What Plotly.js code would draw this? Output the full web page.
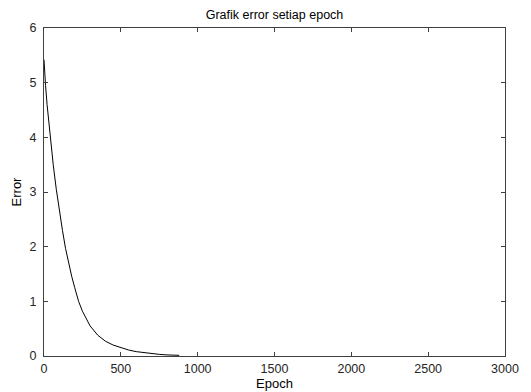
<!DOCTYPE html>
<html>
<head>
<meta charset="utf-8">
<script src="https://cdn.plot.ly/plotly-3.0.1.min.js"></script>
<style>html,body{margin:0;padding:0;background:#fff;}#chart{width:531px;height:392px;}</style>
</head>
<body>
<div id="chart"></div>
<script>
const epochs = [0, 5, 10, 20, 30, 40, 50, 60, 80, 100, 120, 140, 160, 180, 200, 225, 250, 275, 300, 350, 400, 450, 500, 550, 600, 650, 700, 750, 800, 850, 880];
const errors = [5.42, 5.1, 4.95, 4.6, 4.3, 4.0, 3.75, 3.5, 3.05, 2.65, 2.3, 1.97, 1.7, 1.46, 1.25, 1.0, 0.82, 0.67, 0.55, 0.38, 0.27, 0.2, 0.15, 0.11, 0.08, 0.06, 0.04, 0.03, 0.02, 0.015, 0.012];
const xTicks = [0, 500, 1000, 1500, 2000, 2500, 3000];
const yTicks = [0, 1, 2, 3, 4, 5, 6];

const fam = 'Liberation Sans, Arial, sans-serif';
const font = {family: fam, size: 12.5, color: '#262626'};
const axisCommon = {
  showgrid: false, zeroline: false, showline: true, linecolor: '#404040', linewidth: 1,
  mirror: 'ticks', ticks: 'inside', ticklen: 4, tickcolor: '#404040', tickwidth: 1,
  tickfont: font
};
Plotly.newPlot('chart', [{
  x: epochs, y: errors, type: 'scatter', mode: 'lines',
  line: {color: '#000000', width: 1}
}], {
  width: 531, height: 392,
  margin: {l: 44, r: 26, t: 28, b: 36},
  paper_bgcolor: '#ffffff', plot_bgcolor: '#ffffff',
  showlegend: false,
  font: font,
  title: {text: 'Grafik error setiap epoch', font: {family: fam, size: 12.5, color: '#000'}, x: 0.5, xref: 'paper', xanchor: 'center', y: 1, yref: 'paper', yanchor: 'bottom', pad: {b: 9}},
  xaxis: Object.assign({}, axisCommon, {range: [0, 3000], tickvals: xTicks, ticktext: xTicks.map(String), ticklabelstandoff: 1, title: {text: 'Epoch', font: {family: fam, size: 13, color: '#000'}, standoff: 3}}),
  yaxis: Object.assign({}, axisCommon, {range: [0, 6], tickvals: yTicks, ticktext: yTicks.map(String), ticklabelstandoff: 4, title: {text: 'Error', font: {family: fam, size: 13, color: '#000'}, standoff: 4}})
}, {displayModeBar: false, staticPlot: true});
</script>
</body>
</html>
